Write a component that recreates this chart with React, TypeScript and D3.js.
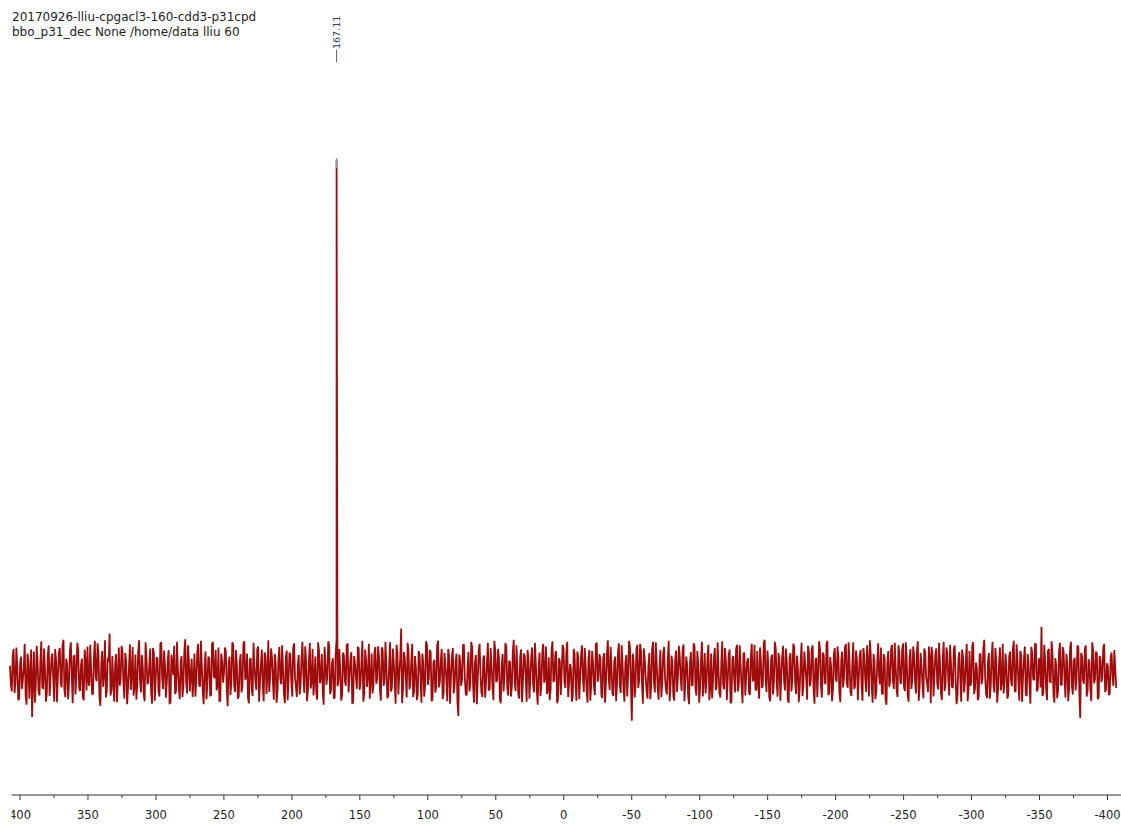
import React from "react";
import * as d3 from "d3";

// ---- data ----
const titleLines = [
  "20170926-lliu-cpgacl3-160-cdd3-p31cpd",
  "bbo_p31_dec None /home/data lliu 60",
];
const tickValues = [400, 350, 300, 250, 200, 150, 100, 50, 0, -50, -100, -150, -200, -250, -300, -350, -400];
const minorTickValues = [375, 325, 275, 225, 175, 125, 75, 25, -25, -75, -125, -175, -225, -275, -325, -375];
const spectrumRange = [407.4, -406.4]; // ppm covered by the recorded points
const peakPpm = [167.11];
const peakIntensity = [1000];
const peakLabels = ["167.11"];
// baseline noise (same intensity units as the peak), read left to right,
// as two alternating sets of points (A = even points, B = odd points)
const noiseA = [
  12,-38,45,-20,8,-52,30,-15,55,-64,22,-8,-88,40,-28,18,-46,60,-33,5,
  -41,52,-12,36,-58,24,-6,47,-30,63,-49,15,-22,58,-61,33,-9,44,-37,26,
  -55,19,50,-27,6,-44,61,-18,32,-66,41,-3,-50,28,75,-35,-24,12,-59,48,
  -14,39,-52,21,-31,54,-7,-46,34,-25,62,-40,10,-57,29,-19,46,-62,37,-11,
  25,-48,58,-33,14,-21,43,-60,17,51,-38,6,-53,31,-26,64,-42,20,-5,-49,
  36,-16,55,-29,9,-63,40,-23,27,-45,59,-12,-36,48,-55,22,-2,41,-67,30,
  -20,53,-39,11,-47,35,-28,60,-8,-51,24,-34,57,-17,44,-58,15,-26,38,-43,
  62,-10,28,-54,19,-37,49,-24,7,-61,42,-15,33,-48,56,-30,13,-44,26,-6,
  50,-57,21,-32,45,-13,-40,58,-22,35,-64,18,-9,52,-36,27,-50,63,-19,4,
  -45,31,-27,54,-11,39,-59,16,-33,47,-21,61,-42,23,-7,-52,36,-25,49,-14,
  29,-56,43,-18,12,-47,58,-31,20,-62,37,-4,85,-35,26,-50,41,-23,55,-38,
  8,-44,33,-60,17,-26,52,-12,39,-53,24,-30,61,-19,45,-41,14,-57,30,-8,
  47,-24,36,-86,22,-15,54,-43,10,-38,59,-27,18,-63,40,-6,-49,32,-21,57,
  -34,13,-55,42,-16,28,-61,35,-9,50,-46,19,-28,63,-37,6,-52,44,-20,31,
  -58,25,-13,48,-40,16,-64,38,-25,55,-11,-43,29,-33,60,-17,41,-54,21,-3,
  46,-31,59,-22,7,-48,34,-56,27,-14,52,-39,11,-60,43,-26,18,-45,57,-10,
  24,-51,37,-19,62,-35,9,-47,30,-23,56,-41,15,-58,33,-7,48,-95,20,-29,
  53,-16,40,-62,26,-38,13,-53,45,-21,58,-30,6,-49,35,-12,-44,61,-27,19,
  -56,42,-8,29,-37,54,-20,14,-63,39,-25,50,-46,17,-32,59,-11,-42,28,-55,
  36,-18,47,-29,3,-50,60,-34,22,-14,44,-58,31,-40,53,-23,10,-61,38,-6,
  27,-45,55,-15,-33,41,-52,18,-26,63,-39,12,-57,34,-21,46,-48,25,-9,51,
  -36,20,-60,37,-13,49,-43,8,-30,57,-24,15,-54,39,-17,52,-62,28,-4,44,
  -50,33,-22,61,-41,11,-35,47,-19,26,-59,40,-10,55,-31,16,-47,58,-28,23,
  -12,43,-56,30,-39,14,62,-26,35,-53,19,-8,48,-44,27,-64,41,-18,53,-33,
  9,-49,37,-23,56,-37,21,-58,45,-15,32,-42,60,-27,12,-51,38,-20,50,-61,
  29,-7,46,-34,17,-55,59,-24,35,-46,14,-30,52,-63,26,-11,44,-40,23,-57,
  41,-19,58,-32,8,-48,36,-14,63,-43,20,-52,31,-25,47,-60,17,-36,55,-21,
  13,-45,40,-28,61,-39,24,-56,33,-9,50,-47,18,-62,37,-16,54,-33,27,88,
  -41,22,-55,45,-20,34,-60,12,-37,57,-26,41,-50,16,-31,59,-44,28,-13,48,
  -90,30,-23,52,-38,19,-57,43,-15,36,-49,25,-8,55,-34,11,-42,38,-27,6,
];
const noiseB = [
  -25,30,-41,48,-55,17,-33,9,-47,36,-52,44,-18,-60,51,-37,22,-29,46,-58,
  33,-47,28,-16,45,-59,38,-21,52,-34,26,-53,41,-8,30,-44,57,-31,13,-50,
  44,-36,-19,53,-42,27,-10,56,-48,15,-29,62,-37,20,-46,31,-58,35,-12,-27,
  51,-22,37,-63,8,-35,49,-28,-54,40,-17,33,-45,58,-24,11,-39,47,-56,29,
  -37,55,-14,42,-50,23,-61,34,-6,-43,59,-30,18,-49,40,-20,52,-38,26,-15,
  -48,37,-24,61,-39,12,-53,30,-46,55,-9,43,-27,-58,36,-21,48,-33,17,-45,
  58,-26,43,-52,19,-40,54,-15,36,-61,27,-47,12,-35,50,-23,44,-57,31,-8,
  -39,46,-18,35,-60,25,-13,52,-44,28,-55,38,-21,47,-12,-49,33,-26,59,-41,
  22,-34,57,-19,-46,30,-54,41,-11,-37,49,-25,60,-43,16,-52,35,-28,45,-56,
  38,-17,53,-40,24,-62,31,-9,48,-35,20,-58,44,-29,55,-14,-42,37,-23,50,
  -33,48,-27,59,-51,14,-38,46,-20,53,-44,26,-61,39,-12,57,-34,22,-49,31,
  -55,41,-13,36,-48,60,-25,43,-57,18,-40,51,-30,24,-53,37,-16,45,-62,28,
  -42,19,-58,34,-27,52,-11,-46,39,-23,48,-60,33,-15,55,-41,26,-50,17,-36,
  47,-29,61,-20,45,-53,14,-38,56,-31,22,-48,40,-17,52,-44,29,-59,36,-10,
  43,-52,30,-24,57,-36,11,-47,39,-21,50,-33,-55,42,-18,34,-61,27,-45,53,
  -20,38,-49,16,-58,45,-26,40,-53,31,-12,47,-37,25,-56,41,-30,54,-19,35,
  -44,27,-60,33,-15,49,-42,21,-57,38,-26,52,-34,18,-48,61,-22,36,-50,44,
  -31,55,-23,46,-9,-52,37,-28,59,-40,17,-54,43,-20,49,-35,26,-57,32,-47,
  24,-39,51,-14,43,-57,30,-45,18,-26,56,-32,41,-60,23,-48,37,-19,53,-29,
  -51,28,-35,58,-42,19,-24,47,-55,33,-61,25,-16,44,-38,52,-28,35,-46,21,
  -40,29,-18,53,-36,-22,48,-31,57,-14,42,-50,26,-44,59,-20,37,-56,30,-17,
  46,-53,27,-38,55,-19,32,-59,21,-47,40,-12,51,-28,45,-35,22,-49,60,-26,
  38,-21,54,-45,29,-57,36,-13,50,-41,24,-30,47,-22,58,-39,18,-33,42,-55,
  31,-26,47,-14,52,-48,33,-60,19,-37,56,-24,-41,35,-53,20,-29,44,-16,57,
  -36,52,-20,43,-30,58,-45,25,-33,50,-19,41,-56,37,-24,46,-12,-39,28,49,
  -48,35,-22,57,-41,26,-37,48,-15,53,-29,44,-17,-46,39,-58,30,-21,55,-34,
  -27,50,-43,18,-55,34,-24,46,-12,-51,37,-28,59,-40,22,-33,48,-19,-42,36,
  -52,30,-17,45,-36,54,-20,41,-58,27,-44,35,-25,49,-13,56,-38,23,-30,-47,
  53,-32,41,-19,60,-44,27,-51,38,-24,49,-15,35,-57,46,-28,21,-36,52,-40,
  37,-16,44,-48,25,-35,58,-22,40,-53,31,-20,47,-39,17,-45,29,-12,43,-31,
];

type Pt = { ppm: number; v: number };

export default function App() {
  const W = 1121, H = 833;
  const x = d3.scaleLinear().domain([400, -400]).range([20, 1107.5]);
  const y = d3.scaleLinear().domain([0, 1000]).range([672, 160]);

  const noise = d3.merge(noiseA.map((v, i) => [v, noiseB[i]]));
  const idx = d3.scaleLinear().domain([0, noise.length - 1]).range(spectrumRange);

  const pts: Pt[] = noise.map((v, i) => ({ ppm: idx(i), v }));
  peakPpm.forEach((p, k) => pts.push({ ppm: p, v: peakIntensity[k] }));
  pts.sort((a, b) => b.ppm - a.ppm);

  const line = d3.line<Pt>().x((d) => x(d.ppm)).y((d) => y(d.v));
  const axisY = 795;
  const font = "'DejaVu Sans', Verdana, sans-serif";

  return (
    <svg width={W} height={H} style={{ position: "absolute", left: 0, top: 0, background: "#fff" }}>
      <defs>
        <clipPath id="axisClip">
          <rect x={11.5} y={0} width={W} height={H} />
        </clipPath>
        <clipPath id="unitClip">
          <rect x={0} y={0} width={W} height={823} />
        </clipPath>
      </defs>
      {titleLines.map((t, i) => (
        <text key={i} x={12} y={20.5 + i * 15} fontFamily={font} fontSize={12} fill="#222">
          {t}
        </text>
      ))}

      {peakPpm.map((p, k) => (
        <g key={k}>
          <text
            transform={`translate(${x(p) + 3.5},49) rotate(-90)`}
            fontFamily={font}
            fontSize={9.5}
            fill="#2b3a6b"
          >
            {peakLabels[k]}
          </text>
          <line x1={x(p)} x2={x(p)} y1={50} y2={62} stroke="#56607a" strokeWidth={1} />
        </g>
      ))}

      <path d={line(pts) || ""} fill="none" stroke="#a00c0c" strokeWidth={1.8} strokeLinejoin="miter" strokeMiterlimit={2} />

      {peakPpm.map((p, k) => (
        <line key={k} x1={x(p)} x2={x(p)} y1={y(peakIntensity[k]) - 2} y2={y(peakIntensity[k]) + 8} stroke="#999" strokeWidth={1.5} />
      ))}

      <g clipPath="url(#axisClip)">
        <line x1={11} x2={W} y1={axisY} y2={axisY} stroke="#333" strokeWidth={1} />
        {tickValues.map((t) => (
          <g key={t}>
            <line x1={x(t)} x2={x(t)} y1={axisY} y2={axisY + 5} stroke="#333" />
            <text x={x(t)} y={axisY + 24} textAnchor="middle" fontFamily={font} fontSize={11.5} fill="#222">
              {t}
            </text>
          </g>
        ))}
        {minorTickValues.map((t) => (
          <line key={t} x1={x(t)} x2={x(t)} y1={axisY} y2={axisY + 3} stroke="#333" />
        ))}
      </g>
      <g clipPath="url(#unitClip)">
        <text x={x(0)} y={831} textAnchor="middle" fontFamily={font} fontSize={11} fill="#ccc">
          f1 (ppm)
        </text>
      </g>
    </svg>
  );
}
